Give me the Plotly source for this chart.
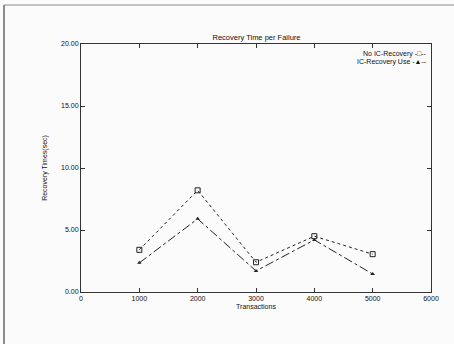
import plotly.graph_objects as go

transactions = [1000, 2000, 3000, 4000, 5000]
no_ic_recovery = [3.4, 8.2, 2.4, 4.5, 3.05]
ic_recovery_use = [2.35, 5.9, 1.7, 4.2, 1.45]

x_ticks = [0, 1000, 2000, 3000, 4000, 5000, 6000]
y_ticks = [0, 5, 10, 15, 20]
y_tick_labels = ["0.00", "5.00", "10.00", "15.00", "20.00"]

series_names = ["No IC-Recovery", "IC-Recovery Use"]
legend_glyphs = ["-□--", "-▲--"]

font = "Liberation Sans, Arial, sans-serif"

fig = go.Figure()
fig.add_trace(go.Scatter(
    x=transactions, y=no_ic_recovery, name=series_names[0],
    mode="lines+markers",
    line=dict(color="#222", width=1, dash="dot"),
    marker=dict(symbol="square-open", size=5, color="#222", line=dict(width=1)),
))
fig.add_trace(go.Scatter(
    x=transactions, y=ic_recovery_use, name=series_names[1],
    mode="lines+markers",
    line=dict(color="#222", width=1, dash="dashdot"),
    marker=dict(symbol="triangle-up", size=4, color="#222"),
))

annotations = []
for i, (n, g) in enumerate(zip(series_names, legend_glyphs)):
    annotations.append(dict(
        xref="paper", yref="paper", x=0.995, y=0.985 - i * 0.035,
        xanchor="right", yanchor="top", showarrow=False,
        text=f"{n} {g}", font=dict(size=7, color="#111")))

fig.update_layout(
    width=454, height=344,
    margin=dict(l=81, r=23, t=44, b=52, autoexpand=False),
    paper_bgcolor="#fbfbfb", plot_bgcolor="#fbfbfb",
    font=dict(family=font, size=7, color="#111"),
    title=dict(text="Recovery Time per Failure", x=0.565, xanchor="center",
               y=1 - 37 / 344, yanchor="middle", font=dict(size=7.5, color="#111")),
    showlegend=False,
    annotations=annotations,
    xaxis=dict(range=[0, 6000], tickvals=x_ticks, showgrid=False, zeroline=False,
               showline=True, linecolor="#333", linewidth=1, mirror="ticks",
               ticks="inside", ticklen=4, tickcolor="#333", automargin=False,
               tickfont=dict(color="#111"),
               title=dict(text="Transactions", standoff=2, font=dict(size=7, color="#111"))),
    yaxis=dict(range=[0, 20], tickvals=y_ticks, ticktext=y_tick_labels,
               showgrid=False, zeroline=False, automargin=False,
               showline=True, linecolor="#333", linewidth=1, mirror="ticks",
               ticks="inside", ticklen=4, tickcolor="#333",
               tickfont=dict(color="#111"),
               title=dict(text="Recovery Times(sec)", standoff=12, font=dict(size=7, color="#111"))),
    shapes=[
        dict(type="line", xref="paper", yref="paper", x0=(4 - 81) / 350, x1=(4 - 81) / 350,
             y0=(292 - 5) / 248, y1=(292 - 344) / 248, line=dict(color="#666", width=1.5)),
        dict(type="line", xref="paper", yref="paper", x0=(4 - 81) / 350, x1=(454 - 81) / 350,
             y0=(292 - 5) / 248, y1=(292 - 5) / 248, line=dict(color="#888", width=1)),
    ],
)

fig.write_html("out.html", config={"displayModeBar": False},
               post_script="document.body.style.margin='0';document.body.style.overflow='hidden';")
